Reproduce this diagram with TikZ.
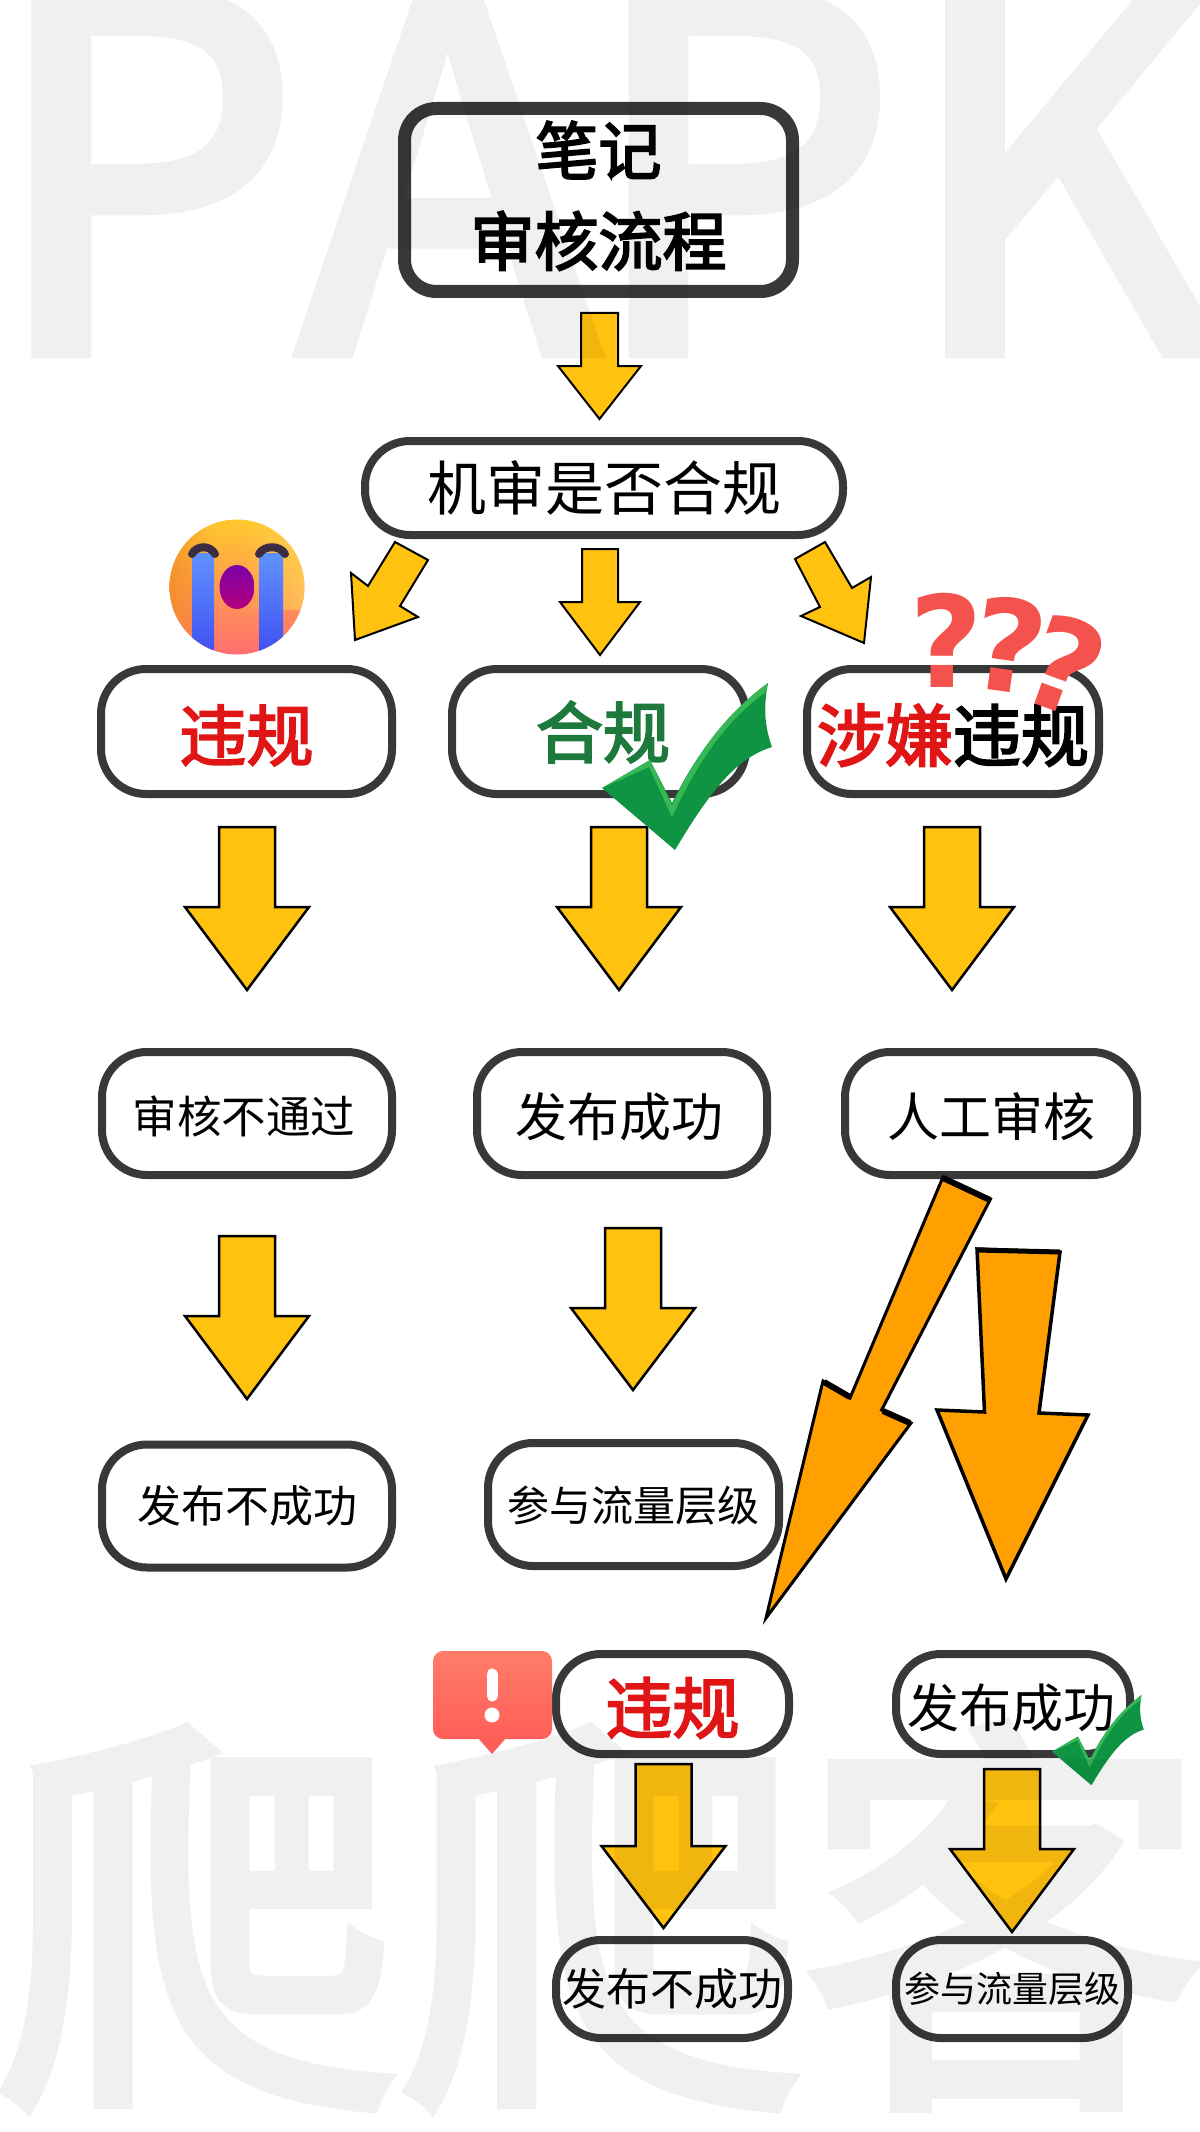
\documentclass[tikz,border=0pt]{standalone}
\usepackage{fontspec}
\setmainfont{Noto Sans CJK SC}
\newfontfamily\wmfont[FakeBold=3]{Noto Sans CJK SC}
\newfontfamily\medf[FakeBold=3]{Noto Sans CJK SC}
\newfontfamily\qfont{DejaVu Sans}
\usetikzlibrary{fadings}
\definecolor{edge}{HTML}{383838}
\definecolor{ayellow}{HTML}{FFC20F}
\definecolor{aorange}{HTML}{FFA000}
\definecolor{vred}{HTML}{E01515}
\definecolor{vgreen}{HTML}{1E7A3C}
\definecolor{qred}{HTML}{F4524C}
\definecolor{tdark}{HTML}{0E9442}
\definecolor{tlight}{HTML}{38B854}
\definecolor{ftop}{HTML}{FFC82C}
\definecolor{fmid}{HTML}{FFAC38}
\definecolor{fbot}{HTML}{FF6E70}
\definecolor{fhigh}{HTML}{FFE05A}
\definecolor{fside}{HTML}{F08C1E}
\definecolor{ttop}{HTML}{5F92FF}
\definecolor{tbot}{HTML}{3E4CF0}
\definecolor{brow}{HTML}{3C2E40}
\definecolor{mtop}{HTML}{7A00A8}
\definecolor{mbot}{HTML}{B4007C}
\definecolor{atop}{HTML}{FF7D68}
\definecolor{abot}{HTML}{FF5E58}
\newcommand\fs[1]{\fontsize{#1}{#1}\selectfont}
% \dn{s}{dx}: the text of this node sits s lower and dx/2 further right than the box centre
\newcommand\dn[2]{\rule[-.12em]{0pt}{\dimexpr1.02em+2\dimexpr#1pt\relax\relax}\hspace*{#2pt}}
\newcommand\varrow[7][2.5pt]{%
  \draw[blockarrow,line width=#1,fill=ayellow]
    ({#2-#4},#3) -- ({#2+#4},#3) -- ({#2+#4},#5) -- ({#2+#6},#5) -- (#2,#7)
    -- ({#2-#6},#5) -- ({#2-#4},#5) -- cycle;}
\newcommand\tickmark[3]{%
  \begin{scope}[shift={(#1,#2)},scale=#3]
    \fill[tdark] (0,105) -- (48,77) -- (70,120) .. controls (95,70) and (125,30) .. (166,0)
      .. controls (161,25) and (163,45) .. (170,64) .. controls (135,75) and (110,105) .. (73,167) -- cycle;
    \fill[tlight] (0,105) -- (48,77) -- (70,122) .. controls (95,70) and (125,30) .. (166,0)
      -- (164,9) .. controls (125,36) and (95,80) .. (70,134) -- (47,84) -- cycle;
  \end{scope}}
\tikzset{
  flow/.style={draw=edge,fill=white,rounded corners=45pt,line width=8pt,align=center,inner sep=0pt,text=black},
  blockarrow/.style={draw=black,line join=miter,miter limit=10},
  wm/.style={text=black,anchor=base west,inner sep=0pt},
  qmark/.style={text=qred,inner sep=0pt,font=\qfont\bfseries\fs{127}},
}
\begin{document}
\begin{tikzpicture}[x=1pt,y=-1pt]
\useasboundingbox (0,0) rectangle (1199,2132);
\clip (0,0) rectangle (1199,2132);
\fill[white] (0,0) rectangle (1199,2132);

% boxes
\node[flow,line width=13pt,rounded corners=32pt,minimum width=388pt,minimum height=183pt,font=\medf\fs{64}] (title) at (598.5,200)
  {\fs{63}笔记\\[27pt]\fs{64}审核流程\rule[-13.5pt]{0pt}{1pt}};
\node[flow,minimum width=478pt,minimum height=94pt,font=\fs{59}] (check) at (604,488) {机审是否合规};

\node[flow,minimum width=291pt,minimum height=125pt,font=\medf\fs{67},text=vred] (bad) at (246.5,731.5) {\dn{3}{0}违规};
\node[flow,minimum width=294pt,minimum height=125pt,font=\medf\fs{67},text=vgreen] (ok) at (599,731.5) {\dn{0}{8}合规};
\node[flow,minimum width=292pt,minimum height=125pt,font=\medf\fs{68}] (sus) at (953,731.5) {\dn{3}{0}\textcolor{vred}{涉嫌}违规};

\node[flow,minimum width=290pt,minimum height=123pt,font=\fs{44.5}] (fail) at (247,1113.5) {\dn{3}{-6}审核不通过};
\node[flow,minimum width=290pt,minimum height=123pt,font=\fs{52}] (pub) at (622,1113.5) {\dn{3}{-5}发布成功};
\node[flow,minimum width=292pt,minimum height=123pt,font=\fs{52}] (manual) at (991,1113.5) {\dn{3}{0}人工审核};

\node[flow,minimum width=290pt,minimum height=123pt,font=\fs{44}] (nopub) at (247,1506) {发布不成功};
\node[flow,minimum width=291pt,minimum height=123pt,font=\fs{42}] (flow1) at (633.5,1504.5) {\dn{1}{0}参与流量层级};

\node[flow,minimum width=233pt,minimum height=100pt,font=\medf\fs{67},text=vred] (bad2) at (672.5,1704) {\dn{3}{0}违规};
\node[flow,minimum width=234pt,minimum height=100pt,font=\fs{52}] (pub2) at (1013,1704) {\dn{3}{-4}发布成功};
\node[flow,minimum width=232pt,minimum height=98pt,font=\fs{44}] (nopub2) at (672,1989) {发布不成功};
\node[flow,minimum width=232pt,minimum height=98pt,font=\fs{36}] (flow2) at (1012,1989) {参与流量层级};

% block arrows: cx, top, half shaft, head base, half head, tip
\varrow[2pt]{599.5}{313}{18.5}{366}{41.5}{419}
\varrow[2pt]{600}{549}{18}{602}{40}{655}
\draw[blockarrow,line width=2pt,fill=ayellow] (395,542) -- (428,560) -- (400,606) -- (418,617) -- (355,640) -- (351,573) -- (368,586) -- cycle;
\draw[blockarrow,line width=2pt,fill=ayellow] (825,542) -- (795,559) -- (820,607) -- (801,616) -- (864,643) -- (871,577) -- (852,588) -- cycle;

\varrow{247}{827}{28}{907}{62}{990}
\varrow{619}{827}{28}{907}{62}{990}
\varrow{952}{827}{28}{907}{62}{990}
\varrow{247}{1236}{28}{1316}{62}{1399}
\varrow{633}{1228}{28}{1308}{62}{1390}
\varrow{663.5}{1764}{28}{1846}{62}{1928}
\varrow{1012}{1769}{28}{1849}{62}{1932}

\draw[blockarrow,line width=3pt,fill=aorange] (943,1177) -- (990.5,1199) -- (881.6,1410) -- (911,1423) -- (766,1618) -- (823,1381) -- (850,1398) -- cycle;
\draw[line width=6pt] (943,1178) -- (990,1200);
\draw[line width=6pt] (824,1382) -- (850,1397);
\draw[line width=6pt] (883,1411) -- (910,1423);
\draw[blockarrow,line width=3.5pt,fill=aorange] (977,1249) -- (1060,1252) -- (1039,1413) -- (1088,1415) -- (1006,1579) -- (937,1410) -- (984.5,1412) -- cycle;
\draw[line width=5pt] (977,1250) -- (1060,1252);

% crying face
\begin{scope}
  \clip (237,587) circle (67.5);
  \shade[top color=ftop,middle color=fmid,bottom color=fbot] (169,519) rectangle (305,655);
  \fill[fhigh,path fading=west,opacity=.6] (240,519) rectangle (305,610);
  \fill[fside,path fading=east,opacity=.7] (169,519) rectangle (210,640);
  \shade[top color=ttop,bottom color=tbot] (192,553) rectangle (214,660);
  \shade[top color=ttop,bottom color=tbot] (259,553) rectangle (283,660);
\end{scope}
\draw[line width=8pt,line cap=round,brow] (192,554) .. controls (197,545) and (210,545) .. (215,554);
\draw[line width=8pt,line cap=round,brow] (259,554) .. controls (264,545) and (280,545) .. (285,554);
\shade[top color=mtop,bottom color=mbot] (237,587) ellipse (17.5 and 22);

% question marks
\node[qmark] (q1) at (946,640) {?};
\node[qmark,rotate=-8] (q2) at (1010,645) {?};
\node[qmark,rotate=-20] (q3) at (1065,665) {?};

% ticks
\tickmark{602}{683}{1}
\tickmark{1052}{1695}{.54}

% alert
\shade[top color=atop,bottom color=abot,rounded corners=10pt] (433,1651) rectangle (552,1739);
\fill[abot] (478,1738) -- (506,1738) -- (492,1754) -- cycle;
\draw[white,line width=11pt,line cap=round] (492,1674) -- (492,1696);
\fill[white] (492,1715) circle (7.5);

% watermark on top, as one transparent group
\begin{scope}[transparency group,opacity=0.06]
\node[wm,font=\wmfont\fs{490}] (wmtop) at (-11,351) {P\kern0pt A\kern-11pt P\kern7pt K};
\node[wm,font=\wmfont\fs{412}] (wmbot) at (-5,2074) {\scalebox{.98}[1]{爬爬客}};
\end{scope}
\end{tikzpicture}
\end{document}
